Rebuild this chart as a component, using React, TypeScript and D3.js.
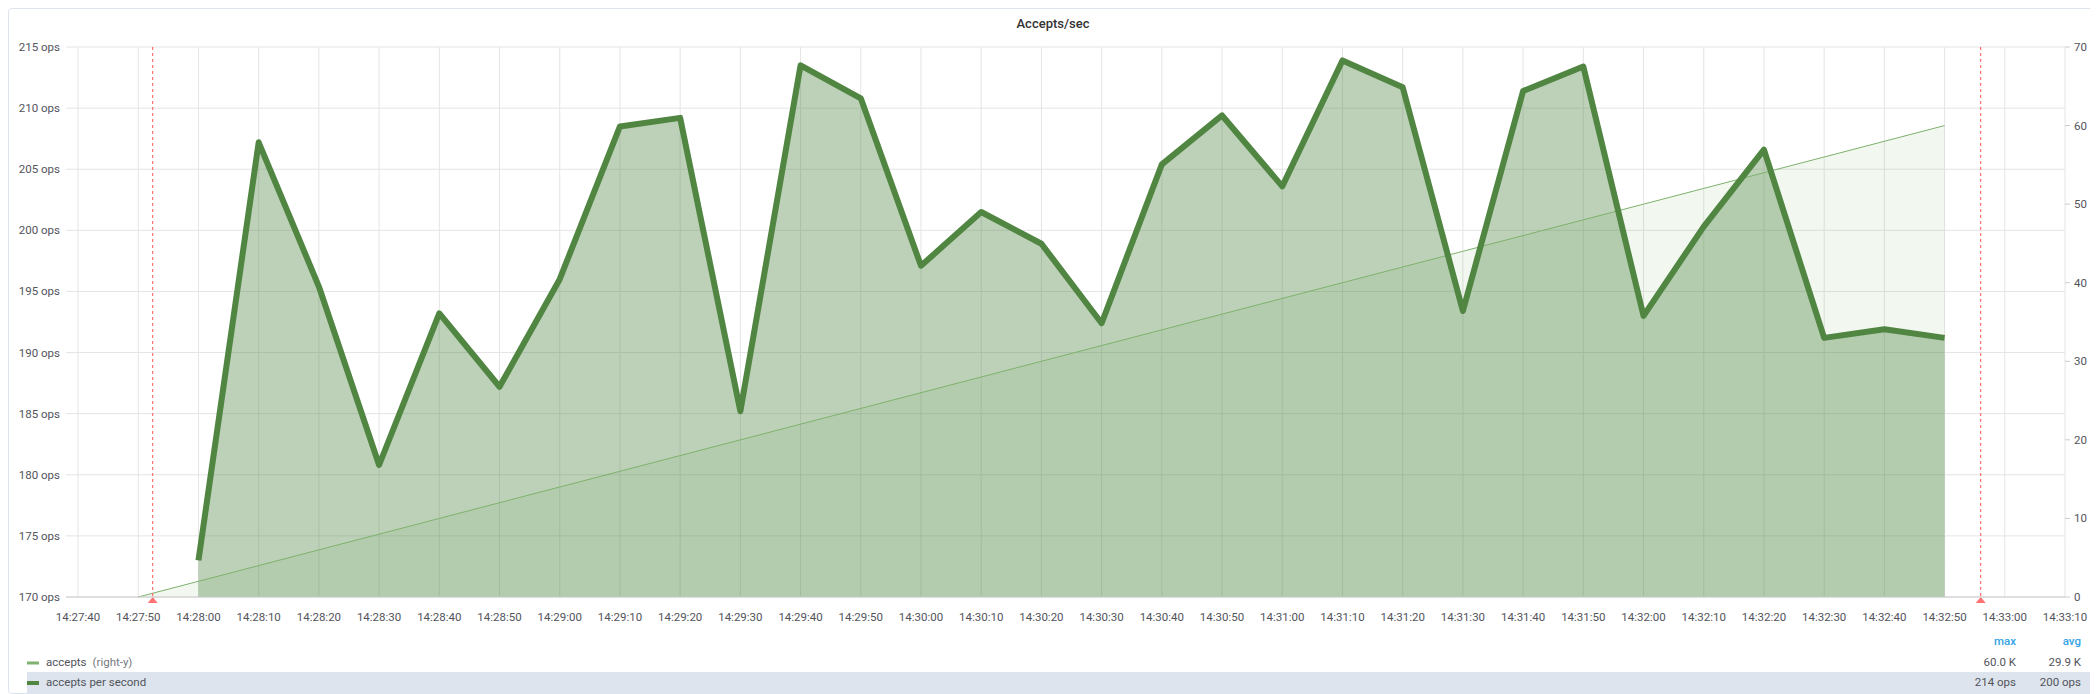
import * as d3 from "d3";
import React from "react";

// seconds after 14:27:00
const times = [60, 70, 80, 90, 100, 110, 120, 130, 140, 150, 160, 170, 180, 190, 200, 210, 220, 230, 240, 250, 260, 270, 280, 290, 300, 310, 320, 330, 340, 350];
const perSecond = [173.0, 207.2, 195.4, 180.8, 193.2, 187.2, 196.0, 208.5, 209.2, 185.2, 213.5, 210.8, 197.1, 201.5, 198.9, 192.4, 205.4, 209.4, 203.6, 213.9, 211.7, 193.4, 211.4, 213.4, 193.0, 200.3, 206.6, 191.2, 191.9, 191.2];
const acceptTimes = [50, 60, 70, 80, 90, 100, 110, 120, 130, 140, 150, 160, 170, 180, 190, 200, 210, 220, 230, 240, 250, 260, 270, 280, 290, 300, 310, 320, 330, 340, 350];
const accepts = [0, 2000, 4000, 6000, 8000, 10000, 12000, 14000, 16000, 18000, 20000, 22000, 24000, 26000, 28000, 30000, 32000, 34000, 36000, 38000, 40000, 42000, 44000, 46000, 48000, 50000, 52000, 54000, 56000, 58000, 60000];
const xTicks = d3.range(40, 371, 10);
const leftTicks = [170, 175, 180, 185, 190, 195, 200, 205, 210, 215];
const rightTicks = [0, 10000, 20000, 30000, 40000, 50000, 60000, 70000];
const markers = [52.4, 356];
const legend = [
  { name: "accepts", suffix: "(right-y)", color: "#7eb26d", h: 3, max: "60.0 K", avg: "29.9 K" },
  { name: "accepts per second", suffix: "", color: "#508642", h: 4, max: "214 ops", avg: "200 ops" },
];

const W = 2090, H = 686;
const font = "Roboto, sans-serif";
const txt = "#52545c";

function fmtTime(s: number) {
  const m = 27 + Math.floor(s / 60);
  const sec = s % 60;
  return `14:${m}:${String(sec).padStart(2, "0")}`;
}

export default function App() {
  const x = d3.scaleLinear().domain([38, 370]).range([58, 2057]);
  const y = d3.scaleLinear().domain([170, 215]).range([589, 39]);
  const yr = d3.scaleLinear().domain([0, 70000]).range([589, 39]);
  const pts = times.map((t, i) => [t, perSecond[i]] as [number, number]);
  const apts = acceptTimes.map((t, i) => [t, accepts[i]] as [number, number]);
  const line = d3.line<[number, number]>().x((d) => x(d[0])).y((d) => y(d[1]));
  const area = d3.area<[number, number]>().x((d) => x(d[0])).y0(589).y1((d) => y(d[1]));
  const aline = d3.line<[number, number]>().x((d) => x(d[0])).y((d) => yr(d[1]));
  const aarea = d3.area<[number, number]>().x((d) => x(d[0])).y0(589).y1((d) => yr(d[1]));

  return (
    <svg width={W} height={H} style={{ display: "block", fontFamily: font }}>
      <rect x={0.5} y={0.5} width={W - 1} height={H - 1} rx={3} fill="#fff" stroke="#dde4ed" />
      <text x={W / 2} y={20} textAnchor="middle" fontSize={13} fontWeight={500} fill="#333">Accepts/sec</text>
      {xTicks.map((t) => (
        <line key={t} x1={x(t)} x2={x(t)} y1={39} y2={589} stroke="#e4e4e4" />
      ))}
      {leftTicks.map((v) => (
        <g key={v}>
          <line x1={58} x2={2057} y1={y(v)} y2={y(v)} stroke="#e4e4e4" />
          <text x={52} y={y(v) + 4} textAnchor="end" fontSize={11.5} fill={txt}>{v} ops</text>
        </g>
      ))}
      {rightTicks.map((v) => (
        <g key={v}>
          <line x1={2057} x2={2062} y1={yr(v)} y2={yr(v)} stroke="#ccc" />
          <text x={2066} y={yr(v) + 4} fontSize={11.5} fill={txt}>{v === 0 ? "0" : `${v / 1000} K`}</text>
        </g>
      ))}
      {xTicks.filter((t) => t <= 370).map((t) => (
        <text key={t} x={x(t)} y={613} textAnchor="middle" fontSize={11.5} fill={txt}>{fmtTime(t)}</text>
      ))}
      <path d={aarea(apts) ?? ""} fill="#7eb26d" fillOpacity={0.1} />
      <path d={area(pts) ?? ""} fill="#508642" fillOpacity={0.38} />
      <path d={aline(apts) ?? ""} fill="none" stroke="#7eb26d" strokeWidth={1} />
      <path d={line(pts) ?? ""} fill="none" stroke="#508642" strokeWidth={6} strokeLinejoin="round" />
      {markers.map((m) => (
        <g key={m}>
          <line x1={x(m)} x2={x(m)} y1={39} y2={589} stroke="#f55" strokeWidth={1} strokeDasharray="3,3" />
          <path d={`M${x(m) - 5},595 L${x(m) + 5},595 L${x(m)},589 Z`} fill="#ff7373" />
        </g>
      ))}
      <line x1={58} x2={2057} y1={589} y2={589} stroke="#ccc" />
      <text x={2008} y={637} textAnchor="end" fontSize={11.5} fontWeight={500} fill="#33a2e5">max</text>
      <text x={2073} y={637} textAnchor="end" fontSize={11.5} fontWeight={500} fill="#33a2e5">avg</text>
      {legend.map((l, i) => {
        const cy = 654 + i * 20;
        return (
          <g key={l.name}>
            {i === 1 && <rect x={19} y={cy - 10} width={2064} height={21} fill="#dde4ed" />}
            <rect x={19} y={cy - l.h / 2 + 1} width={12} height={l.h} fill={l.color} />
            <text x={38} y={cy + 4} fontSize={11.5} fill={txt}>
              {l.name}
              {l.suffix && <tspan dx={6} fill="#767980">{l.suffix}</tspan>}
            </text>
            <text x={2008} y={cy + 4} textAnchor="end" fontSize={11.5} fill={txt}>{l.max}</text>
            <text x={2073} y={cy + 4} textAnchor="end" fontSize={11.5} fill={txt}>{l.avg}</text>
          </g>
        );
      })}
    </svg>
  );
}
